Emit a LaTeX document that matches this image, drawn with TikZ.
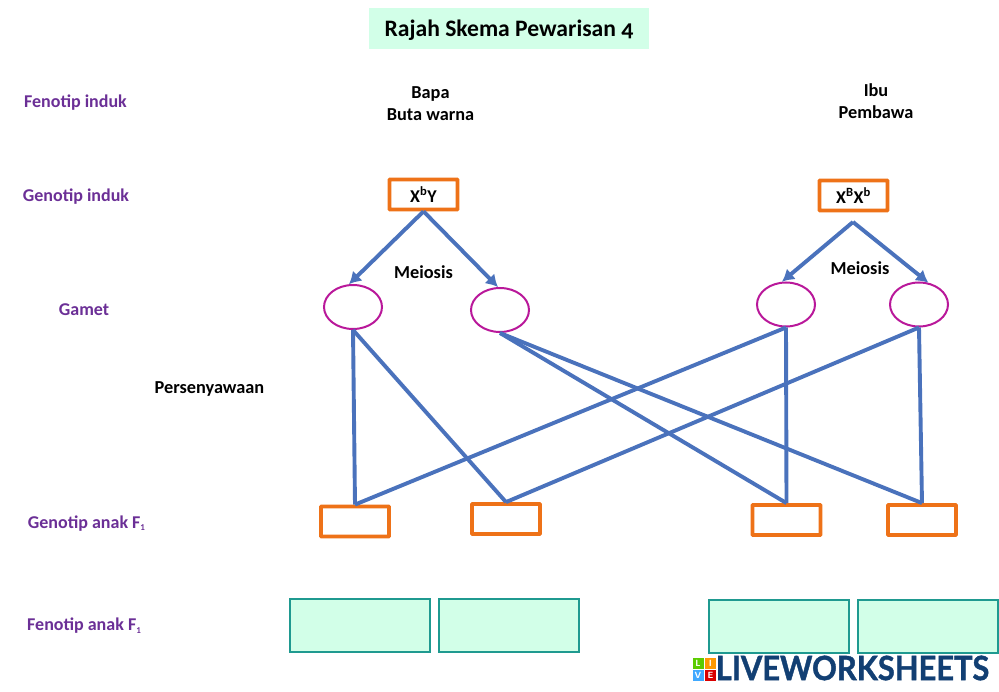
\documentclass[tikz,border=0pt]{standalone}
\usepackage{fontspec}
\setmainfont{Carlito}
\newfontfamily\wsfont[FakeStretch=0.92,BoldFeatures={FakeBold=1.2}]{Lato}
\usetikzlibrary{positioning}
\usetikzlibrary{arrows.meta,shapes.geometric}
\definecolor{labelpurple}{HTML}{6B2F96}
\definecolor{boxorange}{HTML}{EE7218}
\definecolor{linkblue}{HTML}{4A72BC}
\definecolor{gametepink}{HTML}{B9189A}
\definecolor{mintfill}{HTML}{D2FFE8}
\definecolor{tealline}{HTML}{1F9A90}
\definecolor{wsblue}{HTML}{123F73}
\newcommand{\subone}{\raisebox{-2.5pt}{\fontsize{9}{9}\selectfont 1}}
\tikzset{
  rowlabel/.style={font=\bfseries\fontsize{18}{20}\selectfont,text=labelpurple,inner sep=0pt},
  plain/.style={font=\bfseries\fontsize{18.3}{22}\selectfont,align=center,inner sep=0pt},
  genobox/.style={draw=boxorange,line width=3.8pt,minimum width=68pt,minimum height=30pt,inner sep=0pt,rounded corners=0.6pt},
  gamete/.style={draw=gametepink,line width=2pt,ellipse,minimum width=58pt,minimum height=44pt,inner sep=0pt},
  phenobox/.style={draw=tealline,fill=mintfill,line width=1.7pt,minimum width=140pt,minimum height=53pt,inner sep=0pt},
  link/.style={draw=linkblue,line width=3.9pt},
  arrowlink/.style={link,-{Latex[length=12pt,width=14pt]}},
  logotile/.style={minimum size=11pt,inner sep=0pt,text=white,font=\sffamily\bfseries\fontsize{9}{9}\selectfont}
}
\begin{document}
\begin{tikzpicture}[x=1pt,y=-1pt]
\useasboundingbox (0,0) rectangle (999,692);

\node[fill=mintfill,minimum width=280pt,minimum height=41pt,inner sep=0pt] (title) at (509,28.5) {};
\node[font=\bfseries\fontsize{23.6}{26}\selectfont,inner sep=0pt] (titletext) at (509,30) {Rajah Skema Pewarisan {\addfontfeatures{Numbers=OldStyle}4}};

% row labels
\node[rowlabel] (fenind) at (75.5,102.5) {Fenotip induk};
\node[rowlabel] (genind) at (76,197) {Genotip induk};
\node[rowlabel] (gam) at (84,309.5) {Gamet};
\node[rowlabel] (genf) at (86.5,523.5) {Genotip anak F\subone};
\node[rowlabel] (fenf) at (84,626) {Fenotip anak F\subone};
\node[plain,text=black] (sen) at (209.5,389) {Persenyawaan};

% parents
\node[plain] (bapa) at (430.5,103.5) {Bapa\\Buta warna};
\node[plain] (ibu) at (876,101.5) {Ibu\\Pembawa};
\node[genobox] (gbapa) at (423.5,194.5) {\bfseries\fontsize{18}{22}\selectfont X\textsuperscript{b}Y};
\node[genobox] (gibu) at (853.5,195.5) {\bfseries\fontsize{18}{22}\selectfont X\textsuperscript{B}X\textsuperscript{b}};
\coordinate (splitibu) at (853,222);

% gametes
\node[gamete] (g1) at (353,307) {};
\node[gamete] (g2) at (500,310) {};
\node[gamete] (g3) at (786,304.5) {};
\node[gamete] (g4) at (919,304.5) {};
\node[plain] (meileft) at (423.5,272) {Meiosis};
\node[plain] (meiright) at (860,268) {Meiosis};

% F1 genotypes
\node[genobox] (f1) at (355,521.5) {};
\node[genobox] (f2) at (506,519) {};
\node[genobox] (f3) at (786.5,520) {};
\node[genobox] (f4) at (922,520) {};

% F1 phenotypes
\node[phenobox] (p1) at (360,625.5) {};
\node[phenobox,right=7.3pt of p1] (p2) {};
\node[phenobox] (p3) at (779,626.5) {};
\node[phenobox,right=7.3pt of p3] (p4) {};

\draw[arrowlink] (gbapa.south) -- (g1.100);
\draw[arrowlink] (gbapa.south) -- (g2.95);
\draw[arrowlink] (splitibu) -- (g3.100);
\draw[arrowlink] (splitibu) -- (g4.67);
\draw[link] (g1.south) -- (f1.north);
\draw[link] (g1.south) -- (f2.north);
\draw[link] (g2.south) -- (f3.north);
\draw[link] (g2.south) -- (f4.north);
\draw[link] (g3.south) -- (f1.north);
\draw[link] (g3.south) -- (f3.north);
\draw[link] (g4.south) -- (f2.north);
\draw[link] (g4.south) -- (f4.north);

% watermark
\node[logotile,fill=lime!60!green!80!black] (lgl) at (698,663) {L};
\node[logotile,fill=orange!80!yellow,right=1pt of lgl] (lgi) {I};
\node[logotile,fill=blue!45!cyan!75,below=1pt of lgl] (lgv) {V};
\node[logotile,fill=red!85!black,right=1pt of lgv] (lge) {E};
\node[font=\wsfont\bfseries\fontsize{33.5}{36}\selectfont,text=wsblue,inner sep=0pt] (ws) at (852.5,668) {LIVEWORKSHEETS};
\end{tikzpicture}
\end{document}
